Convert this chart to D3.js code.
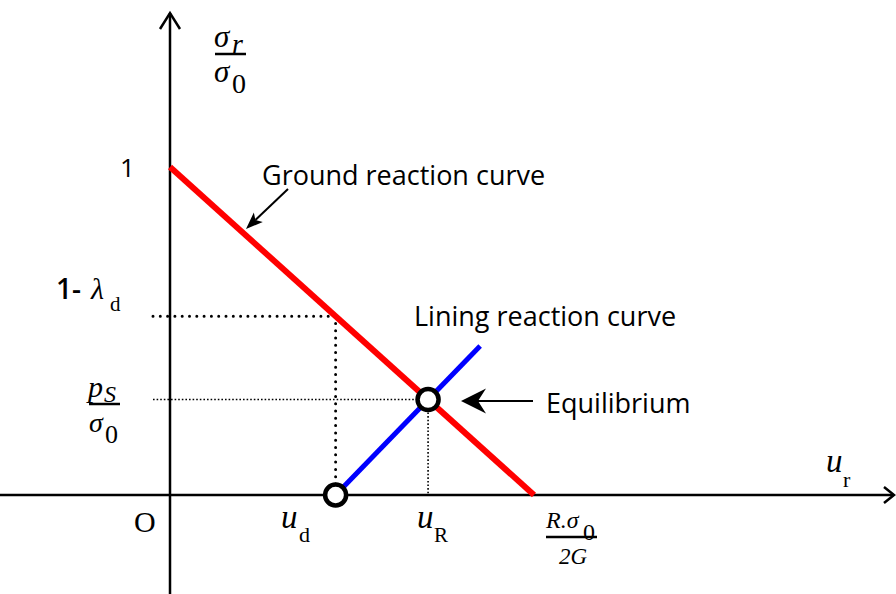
<!DOCTYPE html>
<html>
<head>
<meta charset="utf-8">
<script src="https://cdn.jsdelivr.net/npm/d3@7"></script>
<style>
  html, body { margin: 0; padding: 0; background: #fff; }
  svg { display: block; }
  .sans { font-family: "Open Sans", "Noto Sans", sans-serif; fill: #000; }
  .math { font-family: "Liberation Serif", "DejaVu Serif", serif; font-style: italic; fill: #000; }
  .rom  { font-family: "Liberation Serif", "DejaVu Serif", serif; fill: #000; }
</style>
</head>
<body>
<svg id="chart" width="896" height="594"></svg>
<script>
// Normalised convergence–confinement diagram:
// x = radial displacement u_r / (R.σ0 / 2G), y = radial stress σr / σ0
const groundCurve = [[0, 1], [1, 0]];            // ground reaction curve
const liningCurve = [[0.455, 0], [0.852, 0.454]]; // lining reaction curve
const installPoint = { u: 0.455, s: 0.545 };      // u_d, 1-λd
const equilibrium = { u: 0.709, s: 0.291 };       // u_R, p_S/σ0

const svg = d3.select("#chart");
const x = d3.scaleLinear().domain([0, 1]).range([170, 534]);
const y = d3.scaleLinear().domain([0, 1]).range([495, 167]);
const line = d3.line().x(d => x(d[0])).y(d => y(d[1]));

// ---- axes with open arrowheads ----
const axes = svg.append("g").attr("stroke", "#000").attr("stroke-width", 2.5).attr("fill", "none");
axes.append("line").attr("x1", 0).attr("x2", 893).attr("y1", y(0)).attr("y2", y(0));
axes.append("line").attr("x1", x(0)).attr("x2", x(0)).attr("y1", 13).attr("y2", 594);
axes.append("path").attr("d", `M${x(0) - 10},29 L${x(0)},13 L${x(0) + 10},29`);
axes.append("path").attr("d", `M884,${y(0) - 8} L894,${y(0)} L884,${y(0) + 8}`);

// ---- guide lines ----
svg.append("path")
  .attr("d", `M${x(0) - 17},${y(installPoint.s)} H${x(installPoint.u)} V${y(0)}`)
  .attr("fill", "none").attr("stroke", "#000").attr("stroke-width", 3)
  .attr("stroke-linecap", "round").attr("stroke-dasharray", "0 7.3");
svg.append("path")
  .attr("d", `M${x(0) - 17},${y(equilibrium.s)} H${x(equilibrium.u)} V${y(0)}`)
  .attr("fill", "none").attr("stroke", "#000").attr("stroke-width", 1.6)
  .attr("stroke-dasharray", "1.6 2");

// ---- reaction curves ----
svg.append("path").datum(groundCurve).attr("d", line)
  .attr("fill", "none").attr("stroke", "#ff0000").attr("stroke-width", 6);
svg.append("path").datum(liningCurve).attr("d", line)
  .attr("fill", "none").attr("stroke", "#0000ff").attr("stroke-width", 5);

// ---- key points ----
svg.selectAll("circle.pt")
  .data([[installPoint.u, 0], [equilibrium.u, equilibrium.s]])
  .join("circle").attr("class", "pt")
  .attr("cx", d => x(d[0])).attr("cy", d => y(d[1])).attr("r", 10.5)
  .attr("fill", "#fff").attr("stroke", "#000").attr("stroke-width", 4.5);

// ---- annotation arrows ----
function arrow(x1, y1, x2, y2, len, half, notch) {
  const a = Math.atan2(y2 - y1, x2 - x1);
  const g = svg.append("g");
  g.append("line").attr("x1", x1).attr("y1", y1)
    .attr("x2", x2 - (len - notch) * Math.cos(a))
    .attr("y2", y2 - (len - notch) * Math.sin(a))
    .attr("stroke", "#000").attr("stroke-width", 2);
  g.append("path")
    .attr("d", `M0,0 L${-len},${-half} L${-len + notch},0 L${-len},${half} Z`)
    .attr("transform", `translate(${x2},${y2}) rotate(${a * 180 / Math.PI})`)
    .attr("fill", "#000");
}
arrow(288, 189, 246, 229, 17, 6.5, 4);
arrow(533, 401, 461, 401, 25, 12.5, 8);

// ---- labels ----
const T = (cls, xx, yy, txt, size, anchor) =>
  svg.append("text").attr("class", cls).attr("x", xx).attr("y", yy)
    .attr("font-size", size).attr("text-anchor", anchor || "start").text(txt);

T("sans", 262, 185, "Ground reaction curve", 27);
T("sans", 414, 326, "Lining reaction curve", 27);
T("sans", 546, 413, "Equilibrium", 27);
T("sans", 120, 177, "1", 26);

// 1-λd
T("sans", 56, 299, "1-", 28).attr("font-weight", 600);
T("math", 91, 299, "λ", 30);
T("rom", 110, 311, "d", 21);

// σr / σ0 (vertical axis title)
T("math", 214, 47, "σ", 31);
T("math", 232, 53, "r", 28);
svg.append("line").attr("x1", 215).attr("x2", 246).attr("y1", 54).attr("y2", 54)
  .attr("stroke", "#000").attr("stroke-width", 2.5);
T("math", 214, 82, "σ", 31);
T("rom", 232, 93, "0", 28);

// pS / σ0
T("math", 88, 397, "p", 30);
T("math", 104, 402, "S", 24);
svg.append("line").attr("x1", 89).attr("x2", 120).attr("y1", 404).attr("y2", 404)
  .attr("stroke", "#000").attr("stroke-width", 2.5);
T("math", 89, 432, "σ", 28);
T("rom", 105, 443, "0", 26);

// origin and horizontal axis labels
T("rom", 134, 532, "O", 30);
T("math", 281, 528, "u", 33);
T("rom", 299, 542, "d", 22);
T("math", 417, 528, "u", 33);
T("rom", 434, 542, "R", 21);
T("math", 826, 472, "u", 33);
T("rom", 843, 487, "r", 22);

// R.σ0 / 2G
T("math", 546, 528, "R.σ", 24);
T("rom", 583, 540, "0", 24);
svg.append("line").attr("x1", 546).attr("x2", 597).attr("y1", 537).attr("y2", 537)
  .attr("stroke", "#000").attr("stroke-width", 2.5);
T("math", 573, 564, "2G", 23, "middle");
</script>
</body>
</html>
